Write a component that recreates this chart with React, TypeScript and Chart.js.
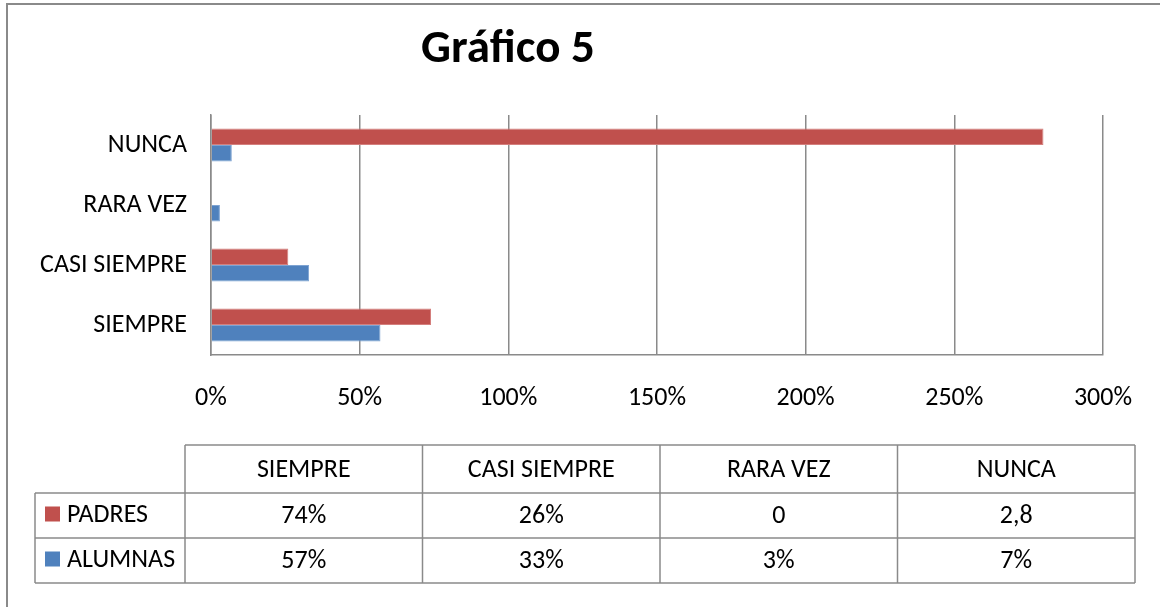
import React, { useEffect, useRef } from "react";
import { Chart, registerables } from "chart.js";

Chart.register(...registerables);

const TITLE = "Gráfico 5";
const CATEGORIES = ["SIEMPRE", "CASI SIEMPRE", "RARA VEZ", "NUNCA"];
const SERIES_NAMES = ["PADRES", "ALUMNAS"];
const PADRES = [74, 26, 0, 280];
const ALUMNAS = [57, 33, 3, 7];
const PADRES_TEXT = ["74%", "26%", "0", "2,8"];
const ALUMNAS_TEXT = ["57%", "33%", "3%", "7%"];
const X_TICKS = [0, 50, 100, 150, 200, 250, 300];

const RED = "#C0504D";
const BLUE = "#4F81BD";
const GRID = "#8a8a8a";
const FONT = "Carlito, Lato, sans-serif";
const FS = 26;

const decorPlugin = {
  id: "decor",
  afterDraw(chart: any) {
    const ctx = chart.ctx;
    ctx.save();
    // outer border (left + top visible)
    ctx.strokeStyle = GRID;
    ctx.lineWidth = 2;
    ctx.beginPath();
    ctx.moveTo(7, 607);
    ctx.lineTo(7, 4);
    ctx.lineTo(1160, 4);
    ctx.stroke();

    // title
    ctx.fillStyle = "#000";
    ctx.font = `bold 47px ${FONT}`;
    ctx.textAlign = "center";
    ctx.textBaseline = "alphabetic";
    ctx.fillText(TITLE, 508, 62);

    // data table
    const colX = [185, 422.5, 660, 897.5, 1135];
    const legendLeft = 35;
    const rowY = [445, 493, 538, 583];
    ctx.strokeStyle = GRID;
    ctx.lineWidth = 1.5;
    ctx.beginPath();
    ctx.moveTo(colX[0], rowY[0]);
    ctx.lineTo(colX[4], rowY[0]);
    for (let i = 1; i < rowY.length; i++) {
      ctx.moveTo(legendLeft, rowY[i]);
      ctx.lineTo(colX[4], rowY[i]);
    }
    ctx.moveTo(legendLeft, rowY[1]);
    ctx.lineTo(legendLeft, rowY[3]);
    for (const x of colX) {
      ctx.moveTo(x, rowY[0]);
      ctx.lineTo(x, rowY[3]);
    }
    ctx.stroke();

    ctx.font = `${FS}px ${FONT}`;
    ctx.fillStyle = "#000";
    ctx.textBaseline = "middle";
    ctx.textAlign = "center";
    const rowsText = [PADRES_TEXT, ALUMNAS_TEXT];
    for (let c = 0; c < CATEGORIES.length; c++) {
      const cx = (colX[c] + colX[c + 1]) / 2;
      ctx.fillText(CATEGORIES[c], cx, (rowY[0] + rowY[1]) / 2 + 1);
      for (let r = 0; r < 2; r++) {
        ctx.fillText(rowsText[r][c], cx, (rowY[r + 1] + rowY[r + 2]) / 2 + 1);
      }
    }
    const colors = [RED, BLUE];
    ctx.textAlign = "left";
    for (let r = 0; r < 2; r++) {
      const cy = (rowY[r + 1] + rowY[r + 2]) / 2;
      ctx.fillStyle = colors[r];
      ctx.fillRect(45, cy - 9, 15, 15);
      ctx.fillStyle = "#000";
      ctx.fillText(SERIES_NAMES[r], 67, cy);
    }
    ctx.restore();
  },
};

export default function App() {
  const ref = useRef<HTMLCanvasElement | null>(null);
  useEffect(() => {
    document.body.style.margin = "0";
    const canvas = ref.current!;
    const chart = new Chart(canvas, {
      type: "bar",
      data: {
        labels: CATEGORIES,
        datasets: [
          {
            label: SERIES_NAMES[0],
            data: PADRES,
            backgroundColor: RED,
            borderColor: "#d47f7d",
            borderWidth: 1,
          },
          {
            label: SERIES_NAMES[1],
            data: ALUMNAS,
            backgroundColor: BLUE,
            borderColor: "#7ea3d2",
            borderWidth: 1,
          },
        ],
      },
      options: {
        indexAxis: "y",
        animation: false,
        responsive: false,
        maintainAspectRatio: false,
        layout: { padding: { left: 0, top: 115, right: 52, bottom: 0 } },
        plugins: {
          legend: { display: false },
          tooltip: { enabled: false },
          title: { display: false },
        },
        datasets: {
          bar: { categoryPercentage: 0.55, barPercentage: 1 },
        },
        scales: {
          x: {
            type: "linear",
            min: 0,
            max: 300,
            afterBuildTicks(scale: any) {
              scale.ticks = X_TICKS.map((v) => ({ value: v }));
            },
            afterFit(scale: any) {
              scale.height = 252;
            },
            ticks: {
              color: "#000",
              font: { family: FONT, size: FS },
              padding: 28,
              callback: (v: any) => `${v}%`,
            },
            grid: { color: GRID, lineWidth: 1.5, drawTicks: false },
            border: { display: true, color: GRID, width: 1.5 },
          },
          y: {
            type: "category",
            reverse: true,
            afterFit(scale: any) {
              scale.width = 211;
            },
            ticks: {
              color: "#000",
              font: { family: FONT, size: FS },
              padding: 24,
            },
            grid: { display: false, drawTicks: false },
            border: { display: true, color: GRID, width: 1.5 },
          },
        },
      },
      plugins: [decorPlugin],
    });
    return () => chart.destroy();
  }, []);
  return (
    <div style={{ position: "absolute", left: 0, top: 0, width: 1160, height: 607, background: "#fff" }}>
      <canvas ref={ref} width={1160} height={607} style={{ display: "block" }} />
    </div>
  );
}
